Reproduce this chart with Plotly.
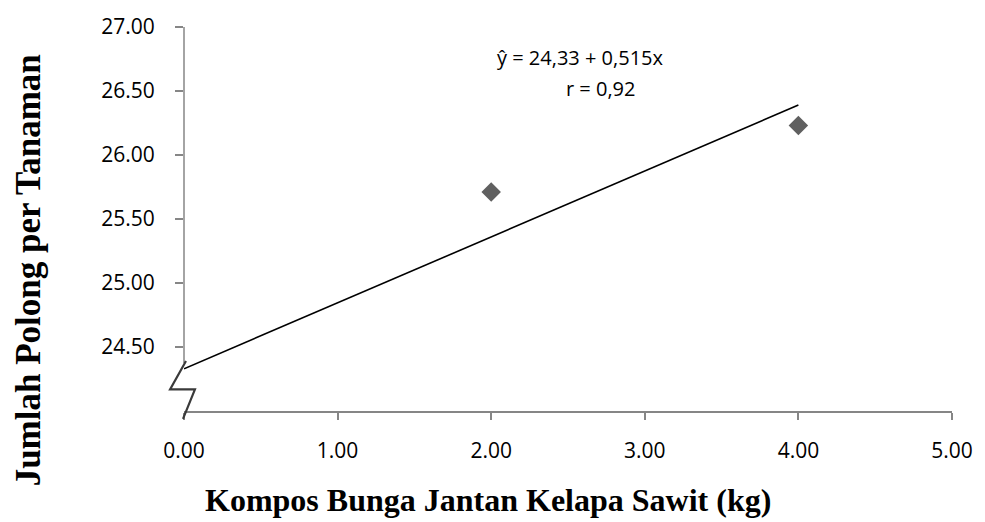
import plotly.graph_objects as go

# Observed data
dose_kg = [2.0, 4.0]
pods_per_plant = [25.71, 26.23]

# Regression reported on the chart
intercept = 24.33
slope = 0.515
r_value = 0.92
fit_x = [0.0, 4.0]
fit_y = [intercept + slope * v for v in fit_x]

x_ticks = [0, 1, 2, 3, 4, 5]
y_ticks = [24.5, 25.0, 25.5, 26.0, 26.5, 27.0]

W, H = 985, 522
ML, MR, MT, MB = 184, 29, 20, 111
PW, PH = W - ML - MR, H - MT - MB

def px(xp):
    return (xp - ML) / PW

def py(yp):
    return (H - MB - yp) / PH

AXIS = "#868686"
TICK_FONT = dict(family="Open Sans", size=21, color="#000000")

fig = go.Figure()
fig.add_trace(go.Scatter(x=fit_x, y=fit_y, mode="lines",
                         line=dict(color="#000000", width=1.6),
                         hoverinfo="skip", showlegend=False))
fig.add_trace(go.Scatter(x=dose_kg, y=pods_per_plant, mode="markers",
                         marker=dict(symbol="diamond", size=15, color="#606060",
                                     line=dict(width=0)),
                         showlegend=False, cliponaxis=False))

fig.update_xaxes(range=[0, 5], tickvals=x_ticks, tickformat=".2f",
                 showgrid=False, zeroline=False, showline=True, linecolor=AXIS,
                 linewidth=1.5, ticks="outside", ticklen=7, tickcolor=AXIS,
                 tickwidth=1.5, tickfont=TICK_FONT, ticklabelstandoff=13)
fig.update_yaxes(range=[24, 27], tickvals=y_ticks, tickformat=".2f",
                 showgrid=False, zeroline=False, showline=False,
                 ticks="outside", ticklen=8, tickcolor=AXIS, tickwidth=1.5,
                 tickfont=TICK_FONT, ticklabelstandoff=16)

shapes = [
    # y-axis line, interrupted near the bottom by the break mark
    dict(type="line", xref="paper", yref="paper", x0=0, x1=0,
         y0=py(362), y1=1, line=dict(color=AXIS, width=1.5)),
    # axis break (zigzag)
    dict(type="path", xref="paper", yref="paper",
         path=(f"M {px(186)},{py(360)} L {px(170)},{py(389)} "
               f"L {px(195)},{py(389)} L {px(183)},{py(419)}"),
         line=dict(color="#3a3a3a", width=2.2)),
]

annotations = [
    dict(text="ŷ = 24,33 + 0,515x", x=px(583), y=py(51), xref="paper", yref="paper",
         showarrow=False, font=dict(family="Open Sans", size=20, color="#000000"),
         xanchor="center", yanchor="middle"),
    dict(text="r = 0,92", x=px(603), y=py(83), xref="paper", yref="paper",
         showarrow=False, font=dict(family="Open Sans", size=20, color="#000000"),
         xanchor="center", yanchor="middle"),
    dict(text="<b>Kompos Bunga Jantan Kelapa Sawit (kg)</b>", x=px(490), y=py(502),
         xref="paper", yref="paper", showarrow=False,
         font=dict(family="Liberation Serif", size=32, color="#000000"),
         xanchor="center", yanchor="middle"),
    dict(text="<b>Jumlah Polong per Tanaman</b>", x=px(28), y=py(268),
         xref="paper", yref="paper", showarrow=False, textangle=-90,
         font=dict(family="Liberation Serif", size=35, color="#000000"),
         xanchor="center", yanchor="middle"),
]

fig.update_layout(width=W, height=H, margin=dict(l=ML, r=MR, t=MT, b=MB),
                  plot_bgcolor="#ffffff", paper_bgcolor="#ffffff",
                  shapes=shapes, annotations=annotations, showlegend=False)

fig.write_html("out.html")
